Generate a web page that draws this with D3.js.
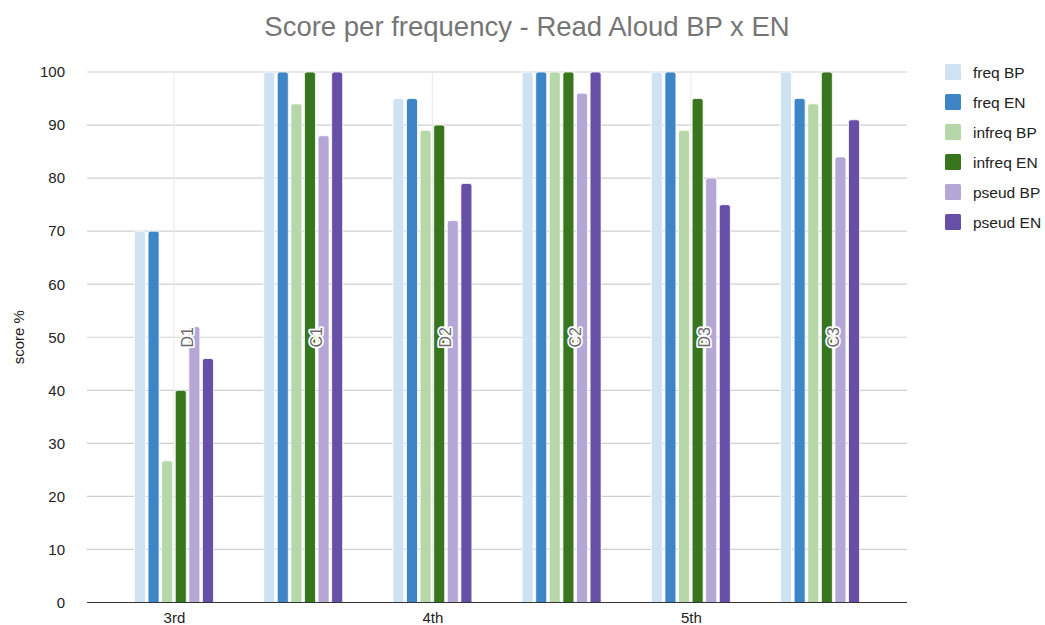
<!DOCTYPE html>
<html>
<head>
<meta charset="utf-8">
<script src="https://cdn.jsdelivr.net/npm/d3@7"></script>
<style>
  html, body { margin: 0; padding: 0; background: #fff; }
  svg { display: block; font-family: "Liberation Sans", Arial, sans-serif; }
</style>
</head>
<body>
<svg id="chart" width="1045" height="625"></svg>
<script>
// Groups (one per reader) and the grade shown under every other group
const groups = ["D1", "C1", "D2", "C2", "D3", "C3"];
const grades = ["3rd", "", "4th", "", "5th", ""];
const series = ["freq BP", "freq EN", "infreq BP", "infreq EN", "pseud BP", "pseud EN"];
const colors = ["#cfe2f3", "#3d85c6", "#b6d7a8", "#38761d", "#b4a7d6", "#674ea7"];

// Scores (%) per series, in group order
const freqBP   = [70, 100, 95, 100, 100, 100];
const freqEN   = [70, 100, 95, 100, 100, 95];
const infreqBP = [26.7, 94, 89, 100, 89, 94];
const infreqEN = [40, 100, 90, 100, 95, 100];
const pseudBP  = [52, 88, 72, 96, 80, 84];
const pseudEN  = [46, 100, 79, 100, 75, 91];
const values = [freqBP, freqEN, infreqBP, infreqEN, pseudBP, pseudEN];

const yTicks = [0, 10, 20, 30, 40, 50, 60, 70, 80, 90, 100];

const svg = d3.select("#chart");
const plot = { left: 87, right: 907, top: 72, bottom: 602.5 };

const x = d3.scalePoint().domain(groups).range([plot.left, plot.right]).padding(0.673);
const xInner = d3.scaleBand().domain(series).range([-39.5, 39.5]).paddingInner(0.19).paddingOuter(0);
const y = d3.scaleLinear().domain([0, 100]).range([plot.bottom, plot.top]);

// Title
svg.append("text")
  .attr("x", 527).attr("y", 36)
  .attr("text-anchor", "middle")
  .attr("font-size", 27.5)
  .attr("fill", "#757575")
  .text("Score per frequency - Read Aloud BP x EN");

// Horizontal gridlines
svg.append("g").selectAll("line")
  .data(yTicks.filter(d => d !== 0))
  .join("line")
  .attr("x1", plot.left).attr("x2", plot.right)
  .attr("y1", d => y(d)).attr("y2", d => y(d))
  .attr("stroke", "#d0d0d0").attr("stroke-width", 1.2);

// Vertical gridlines at labelled groups
svg.append("g").selectAll("line")
  .data(groups.filter((g, i) => grades[i] !== ""))
  .join("line")
  .attr("x1", d => x(d)).attr("x2", d => x(d))
  .attr("y1", plot.top).attr("y2", plot.bottom)
  .attr("stroke", "#ececec").attr("stroke-width", 1.2);

// Y axis labels
const yAxis = d3.axisLeft(y).tickValues(yTicks).tickSize(0).tickPadding(22);
const gy = svg.append("g").attr("transform", `translate(${plot.left},0)`).call(yAxis);
gy.select(".domain").remove();
gy.selectAll("text").attr("font-size", 15).attr("fill", "#222")
  .attr("font-family", "Liberation Sans, Arial, sans-serif");

svg.append("text")
  .attr("transform", `translate(24,${y(50)}) rotate(-90)`)
  .attr("text-anchor", "middle")
  .attr("font-size", 15)
  .attr("fill", "#222")
  .text("score %");

// Rounded-top bar path
function barPath(x0, w, yTop, yBase, r) {
  r = Math.min(r, w / 2, (yBase - yTop));
  return `M${x0},${yBase}V${yTop + r}Q${x0},${yTop} ${x0 + r},${yTop}` +
         `H${x0 + w - r}Q${x0 + w},${yTop} ${x0 + w},${yTop + r}V${yBase}Z`;
}

// Bars
const barData = [];
groups.forEach((g, gi) => {
  series.forEach((s, si) => {
    barData.push({ group: g, series: s, value: values[si][gi], color: colors[si] });
  });
});

svg.append("g").selectAll("path")
  .data(barData)
  .join("path")
  .attr("d", d => barPath(x(d.group) + xInner(d.series), xInner.bandwidth(), y(d.value), y(0), 2.5))
  .attr("fill", d => d.color)
  .attr("stroke", "#fff")
  .attr("stroke-width", 0.8);

// Baseline
svg.append("line")
  .attr("x1", plot.left).attr("x2", plot.right)
  .attr("y1", y(0)).attr("y2", y(0))
  .attr("stroke", "#333").attr("stroke-width", 1.2);

// X axis labels
const xAxis = d3.axisBottom(x).tickSize(0).tickPadding(10)
  .tickFormat((d, i) => grades[i]);
const gx = svg.append("g").attr("transform", `translate(0,${y(0)})`).call(xAxis);
gx.select(".domain").remove();
gx.selectAll("text").attr("font-size", 15).attr("fill", "#222")
  .attr("font-family", "Liberation Sans, Arial, sans-serif");

// Group name annotations
svg.append("g").selectAll("text")
  .data(groups)
  .join("text")
  .attr("transform", d => `translate(${x(d) + 13.5},${y(50)}) rotate(-90)`)
  .attr("text-anchor", "middle")
  .attr("dominant-baseline", "central")
  .attr("font-size", 16)
  .attr("fill", "#6a6a6a")
  .attr("stroke", "#fff")
  .attr("stroke-width", 3.5)
  .attr("stroke-linejoin", "round")
  .attr("paint-order", "stroke")
  .text(d => d);

// Legend
const legend = svg.append("g").attr("transform", "translate(945,64)");
const items = legend.selectAll("g")
  .data(series)
  .join("g")
  .attr("transform", (d, i) => `translate(0,${i * 30})`);
items.append("rect")
  .attr("width", 16).attr("height", 16).attr("rx", 1.5)
  .attr("fill", (d, i) => colors[i]);
items.append("text")
  .attr("x", 28).attr("y", 8)
  .attr("dominant-baseline", "central")
  .attr("font-size", 15.5)
  .attr("fill", "#222")
  .text(d => d);
</script>
</body>
</html>
